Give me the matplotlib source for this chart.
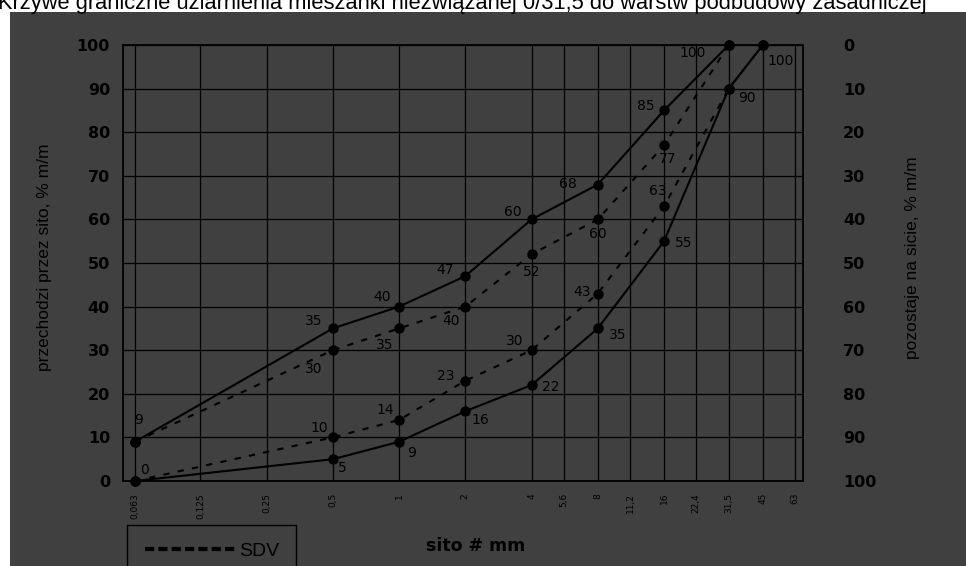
import matplotlib
matplotlib.use("Agg")
import matplotlib.pyplot as plt
from matplotlib.lines import Line2D
from matplotlib.patches import Rectangle

# ---------------- data ----------------
title = "Krzywe graniczne uziarnienia mieszanki niezwiązanej 0/31,5 do warstw podbudowy zasadniczej"
sieves = [0.063, 0.125, 0.25, 0.5, 1, 2, 4, 5.6, 8, 11.2, 16, 22.4, 31.5, 45, 63]
sieve_labels = ["0,063", "0,125", "0,25", "0,5", "1", "2", "4", "5,6", "8", "11,2",
                "16", "22,4", "31,5", "45", "63"]

upper_x = [0.063, 0.5, 1, 2, 4, 8, 16, 31.5]
upper_y = [9, 35, 40, 47, 60, 68, 85, 100]

lower_x = [0.063, 0.5, 1, 2, 4, 8, 16, 31.5, 45]
lower_y = [0, 5, 9, 16, 22, 35, 55, 90, 100]

sdv_upper_x = [0.063, 0.5, 1, 2, 4, 8, 16, 31.5]
sdv_upper_y = [9, 30, 35, 40, 52, 60, 77, 100]

sdv_lower_x = [0.063, 0.5, 1, 2, 4, 8, 16, 31.5, 45]
sdv_lower_y = [0, 10, 14, 23, 30, 43, 63, 90, 100]

left_ticks = [0, 10, 20, 30, 40, 50, 60, 70, 80, 90, 100]
right_ticks = [0, 10, 20, 30, 40, 50, 60, 70, 80, 90, 100]

# label pixel offsets (style): None = no label drawn
upper_off = [(4, 22), (-19, 7), (-17, 10), (-20, 6), (-19, 7), (-30, 1), (-18, 4), (-36, -8)]
lower_off = [(10, 11), (9, -9), (12, -11), (15, -9), (19, -2), (20, -7), (20, -2), (18, -9), (18, -16)]
sdv_upper_off = [None, (-19, -19), (-14, -17), (-14, -14), (0, -18), (0, -15), (4, -14), None]
sdv_lower_off = [None, (-14, 9), (-14, 10), (-20, 5), (-17, 9), (-16, 2), (-6, 15), None, None]

# ---------------- figure ----------------
W, H, DPI = 966, 566, 100
BG = "#404040"
INK = "#000000"

fig = plt.figure(figsize=(W / DPI, H / DPI), dpi=DPI, facecolor="white")
fig.patches.append(Rectangle((10 / W, 0), 1 - 10 / W, 1 - 12 / H, transform=fig.transFigure,
                             facecolor=BG, edgecolor="none", zorder=-10))

ax_l, ax_r, ax_t, ax_b = 123, 803, 45, 481
ax = fig.add_axes([ax_l / W, 1 - ax_b / H, (ax_r - ax_l) / W, (ax_b - ax_t) / H])
ax.set_facecolor(BG)
ax.set_xscale("log", base=2)
ax.set_xlim(0.0556, 68.5)
ax.set_ylim(0, 100)

# grid
for s in sieves:
    ax.axvline(s, color=INK, lw=0.9, zorder=1)
for t in left_ticks:
    ax.axhline(t, color=INK, lw=0.9, zorder=1)
for sp in ax.spines.values():
    sp.set_color(INK)
    sp.set_linewidth(1.3)

px = 72 / DPI  # points per pixel

def draw(xs, ys, offs, dashed):
    kw = dict(color=INK, lw=1.5, marker="o", ms=6.5, clip_on=False, zorder=3)
    ln, = ax.plot(xs, ys, **kw)
    if dashed:
        ln.set_dashes((3, 4))
    for x, y, o in zip(xs, ys, offs):
        if o is None:
            continue
        ax.annotate(str(y), (x, y), xytext=(o[0] * px, o[1] * px), textcoords="offset points",
                    ha="center", va="center", fontsize=10, color=INK, family="DejaVu Sans",
                    zorder=4, annotation_clip=False)
    return ln

draw(upper_x, upper_y, upper_off, False)
draw(lower_x, lower_y, lower_off, False)
draw(sdv_upper_x, sdv_upper_y, sdv_upper_off, True)
draw(sdv_lower_x, sdv_lower_y, sdv_lower_off, True)

# ticks
ax.set_xticks(sieves)
ax.set_xticklabels(sieve_labels, rotation=90, fontsize=6.5, color=INK, va="top")
ax.xaxis.set_minor_locator(matplotlib.ticker.NullLocator())
ax.tick_params(axis="x", length=0, pad=12 * px)
ax.set_yticks(left_ticks)
ax.set_yticklabels([str(t) for t in left_ticks], fontsize=11.5, fontweight="bold", color=INK)
ax.tick_params(axis="y", length=0, pad=13 * px)

ax2 = ax.twinx()
ax2.set_ylim(100, 0)
ax2.set_yticks(right_ticks)
ax2.set_yticklabels([str(t) for t in right_ticks], fontsize=11.5, fontweight="bold", color=INK)
ax2.tick_params(axis="y", length=0, pad=40 * px)
for sp in ax2.spines.values():
    sp.set_visible(False)

# axis labels
fig.text(45 / W, 1 - 257 / H, "przechodzi przez sito, % m/m", rotation=90, ha="center", va="center",
         fontsize=12.5, family="Liberation Sans", color=INK)
fig.text(913 / W, 1 - 258 / H, "pozostaje na sicie, % m/m", rotation=90, ha="center", va="center",
         fontsize=12.5, family="Liberation Sans", color=INK)
fig.text(476 / W, 1 - 546 / H, "sito # mm", ha="center", va="center", fontsize=12.5,
         fontweight="bold", family="DejaVu Sans", color=INK)

# legend box (proxy handle for the dashed SDV curves)
handle = Line2D([], [], color=INK, lw=3)
handle.set_dashes((2.2, 1.0))
leg = fig.legend([handle], ["SDV"], loc="upper left", bbox_to_anchor=(127 / W, 1 - 525 / H),
                 frameon=True, fancybox=False, handlelength=4.8,
                 handletextpad=0.05, borderpad=0.9, borderaxespad=0,
                 prop={"family": "Liberation Sans", "size": 14})
leg.get_frame().set_facecolor(BG)
leg.get_frame().set_edgecolor(INK)
leg.get_frame().set_linewidth(1.0)
leg.get_frame().set_alpha(1)

# title, auto-fitted to the reference width
t = fig.text(-2 / W, 1 - 9.5 / H, title, ha="left", va="baseline", fontsize=15,
             family="Liberation Sans", color=INK)
fig.canvas.draw()
w = t.get_window_extent().width
t.set_fontsize(15 * 930 / w)

fig.savefig("out.png", dpi=DPI, facecolor="white")
